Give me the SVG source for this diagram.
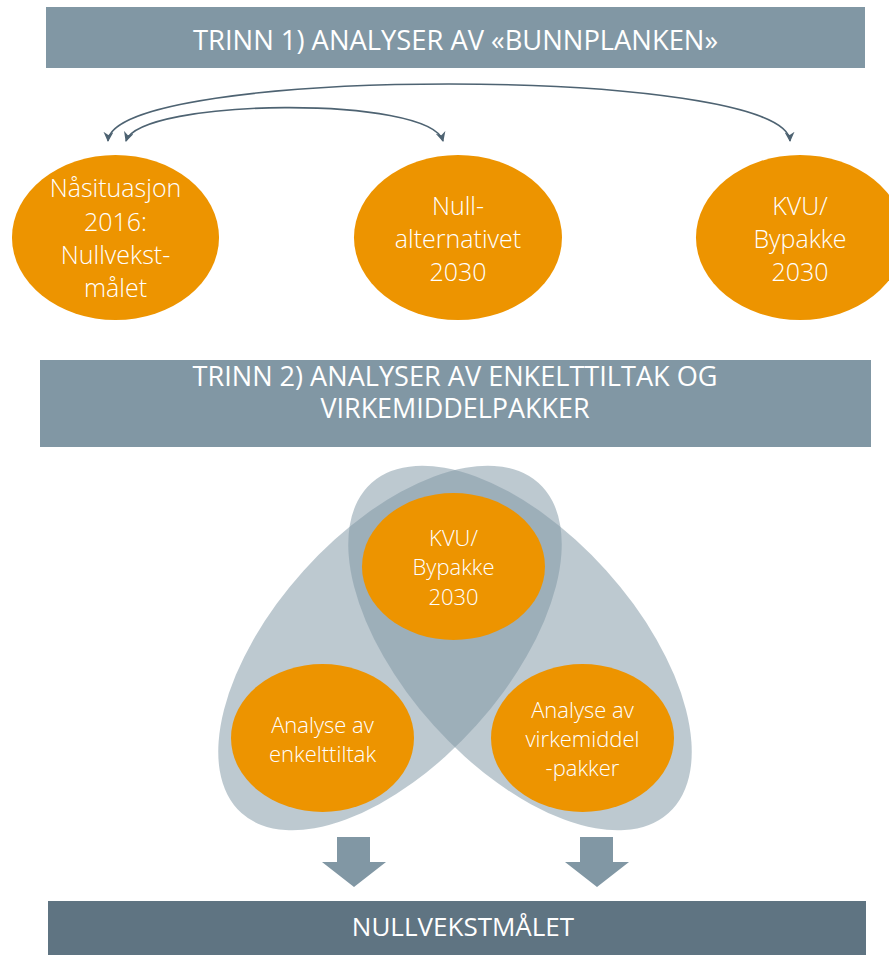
<svg xmlns="http://www.w3.org/2000/svg" width="889" height="955" viewBox="0 0 889 955">
<style>
.banner{fill:#8197A4}
.dark{fill:#5F7482}
.bt{font-family:"Open Sans","Noto Sans",sans-serif;fill:#fff;font-size:28px;text-anchor:middle}
.node{fill:#ED9400}
.nt{font-family:"Open Sans","Noto Sans",sans-serif;fill:#fff;text-anchor:middle;font-weight:300}
.t1{font-size:25px}
.t2{font-size:22px}
.venn{fill:#8197A4;fill-opacity:0.52}
.conn{fill:none;stroke:#4E6372;stroke-width:1.6}
.down{fill:#8197A4}
</style>
<defs>
<marker id="ah" viewBox="0 0 10 10" refX="9" refY="5" markerWidth="10" markerHeight="10" markerUnits="userSpaceOnUse" orient="auto-start-reverse">
<path d="M0,0 L10,5 L0,10 L3,5 z" fill="#4E6372"/>
</marker>
</defs>
<rect width="889" height="955" fill="#fff"/>

<g id="banner1">
<rect class="banner" x="46" y="7" width="819" height="61"/>
<text class="bt" x="455.5" y="50" textLength="525" lengthAdjust="spacingAndGlyphs">TRINN 1) ANALYSER AV «BUNNPLANKEN»</text>
</g>

<g id="connectors">
<path class="conn" d="M108,141 C112,65 786,65 790,141" marker-start="url(#ah)" marker-end="url(#ah)"/>
<path class="conn" d="M126,141 C140,98 430,95 443,141" marker-start="url(#ah)" marker-end="url(#ah)"/>
</g>

<g id="n-nasituasjon">
<ellipse class="node" cx="115.5" cy="237.5" rx="103.5" ry="82.5"/>
<text class="nt t1"><tspan x="115.5" y="197">Nåsituasjon</tspan><tspan x="115.5" y="231">2016:</tspan><tspan x="115.5" y="264">Nullvekst-</tspan><tspan x="115.5" y="297">målet</tspan></text>
</g>
<g id="n-nullalt">
<ellipse class="node" cx="458" cy="237.5" rx="104" ry="82.5"/>
<text class="nt t1"><tspan x="458" y="215">Null-</tspan><tspan x="458" y="248">alternativet</tspan><tspan x="458" y="281">2030</tspan></text>
</g>
<g id="n-kvu1">
<ellipse class="node" cx="800" cy="237.5" rx="104" ry="82.5"/>
<text class="nt t1"><tspan x="800" y="215">KVU/</tspan><tspan x="800" y="248">Bypakke</tspan><tspan x="800" y="281">2030</tspan></text>
</g>

<g id="banner2">
<rect class="banner" x="40" y="360" width="831" height="87"/>
<text class="bt" x="455" y="386" textLength="525" lengthAdjust="spacingAndGlyphs">TRINN 2) ANALYSER AV ENKELTTILTAK OG</text>
<text class="bt" x="455" y="418" textLength="269" lengthAdjust="spacingAndGlyphs">VIRKEMIDDELPAKKER</text>
</g>

<g id="venn">
<ellipse class="venn" cx="390" cy="648" rx="222" ry="116" transform="rotate(-48 390 648)"/>
<ellipse class="venn" cx="520" cy="648" rx="222" ry="116" transform="rotate(48 520 648)"/>
</g>

<g id="n-kvu2">
<ellipse class="node" cx="453.5" cy="566.5" rx="91.5" ry="73.5"/>
<text class="nt t2"><tspan x="453.5" y="546">KVU/</tspan><tspan x="453.5" y="575">Bypakke</tspan><tspan x="453.5" y="605">2030</tspan></text>
</g>
<g id="n-enkelt">
<ellipse class="node" cx="322.5" cy="738" rx="91.5" ry="74"/>
<text class="nt t2"><tspan x="322.5" y="733">Analyse av</tspan><tspan x="322.5" y="762">enkelttiltak</tspan></text>
</g>
<g id="n-virk">
<ellipse class="node" cx="582.5" cy="738" rx="91.5" ry="74"/>
<text class="nt t2"><tspan x="582.5" y="718">Analyse av</tspan><tspan x="582.5" y="747">virkemiddel</tspan><tspan x="582.5" y="776">-pakker</tspan></text>
</g>

<g id="arrows-down">
<path class="down" d="M337,837 H370 V862 H386 L354,887 L322,862 H337 Z"/>
<path class="down" d="M580,837 H613 V862 H629 L597,887 L565,862 H580 Z"/>
</g>

<g id="banner3">
<rect class="dark" x="48" y="901" width="818" height="54"/>
<text class="bt" x="463" y="936" style="font-size:26px">NULLVEKSTMÅLET</text>
</g>
</svg>
